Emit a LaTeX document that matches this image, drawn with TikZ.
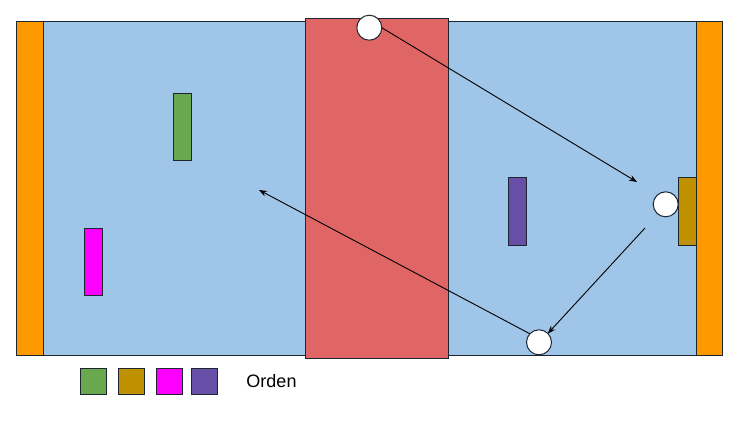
\documentclass[tikz,border=0pt]{standalone}
\usepackage{fontspec}
\setmainfont{Liberation Sans}
\usetikzlibrary{arrows.meta}
\definecolor{cOrange}{HTML}{FF9900}
\definecolor{cBlue}{HTML}{9FC5E8}
\definecolor{cRed}{HTML}{E06666}
\definecolor{cGreen}{HTML}{6AA84F}
\definecolor{cOlive}{HTML}{BF9000}
\definecolor{cMagenta}{HTML}{FF00FF}
\definecolor{cPurple}{HTML}{674EA7}
\definecolor{cEdge}{HTML}{1B2631}
\tikzset{
  box/.style={draw=cEdge, line width=1pt, inner sep=0pt, outer sep=0pt, rectangle},
  ball/.style={circle, draw=cEdge, fill=white, line width=1pt, minimum size=25pt, inner sep=0pt, outer sep=0pt},
  path/.style={draw=black, line width=0.9pt, -{Stealth[length=8pt,width=6pt]}},
  legend/.style={box, minimum width=26pt, minimum height=26pt}
}
\begin{document}
\begin{tikzpicture}[x=1pt,y=-1pt]
\useasboundingbox (0,0) rectangle (755,423);
% field
\node[box, fill=cBlue, minimum width=654pt, minimum height=334pt] (field) at (370,188) {};
\node[box, fill=cOrange, minimum width=27pt, minimum height=334pt] (goalL) at (29.5,188) {};
\node[box, fill=cOrange, minimum width=25.5pt, minimum height=334pt] (goalR) at (709.5,188) {};
\node[box, fill=cRed, minimum width=143pt, minimum height=340pt] (mid) at (376.5,188) {};
% players
\node[box, fill=cGreen, minimum width=18pt, minimum height=67pt] (pg) at (182,126.5) {};
\node[box, fill=cMagenta, minimum width=18pt, minimum height=67pt] (pm) at (93,261.5) {};
\node[box, fill=cPurple, minimum width=18pt, minimum height=68pt] (pp) at (517,211) {};
\node[box, fill=cOlive, minimum width=18pt, minimum height=68pt] (po) at (687.3,211.3) {};
% balls
\node[ball] (top) at (369.3,27.7) {};
\node[ball] (right) at (665.7,204.3) {};
\node[ball] (bot) at (539,342.3) {};
% free ends
\coordinate (a1end) at (637,182);
\coordinate (a2start) at (645,228);
\coordinate (a3end) at (259,190);
% arrows
\draw[path] (top.east) -- (a1end);
\draw[path] (a2start) -- (bot.45);
\draw[path] (bot.137) -- (a3end);
% legend
\node[legend, fill=cGreen] (l1) at (93.2,381.3) {};
\node[legend, fill=cOlive] (l2) at (131.5,381.3) {};
\node[legend, fill=cMagenta] (l3) at (169.3,381.3) {};
\node[legend, fill=cPurple] (l4) at (204.3,381.3) {};
\node[font=\fontsize{18}{21}\selectfont, inner sep=0pt] (ltext) at (271.5,381.5) {Orden};
\end{tikzpicture}
\end{document}
